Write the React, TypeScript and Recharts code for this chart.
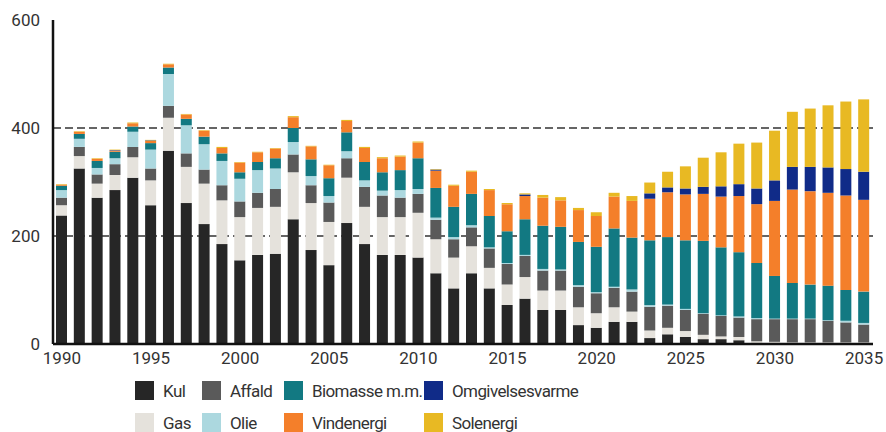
import { BarChart, Bar, XAxis, YAxis, CartesianGrid } from 'recharts';

const years = [
  1990, 1991, 1992, 1993, 1994, 1995, 1996, 1997, 1998, 1999,
  2000, 2001, 2002, 2003, 2004, 2005, 2006, 2007, 2008, 2009,
  2010, 2011, 2012, 2013, 2014, 2015, 2016, 2017, 2018, 2019,
  2020, 2021, 2022, 2023, 2024, 2025, 2026, 2027, 2028, 2029,
  2030, 2031, 2032, 2033, 2034, 2035,
];

const kul = [
  238, 325, 271, 285, 308, 257, 358, 261, 222, 185,
  155, 165, 167, 231, 174, 146, 224, 185, 165, 165,
  160, 131, 103, 131, 103, 72, 84, 63, 63, 35,
  30, 41, 41, 11, 18, 13, 9, 9, 7, 2,
  2, 2, 2, 2, 2, 2,
];
const gas = [
  19, 23, 26, 28, 38, 46, 61, 67, 75, 81,
  80, 87, 87, 87, 87, 80, 84, 69, 70, 70,
  83, 63, 57, 50, 38, 38, 40, 36, 36, 33,
  27, 27, 19, 14, 12, 11, 8, 5, 6, 3,
  2, 1, 1, 1, 1, 1,
];
const affald = [
  14, 17, 17, 20, 19, 22, 22, 25, 26, 28,
  29, 28, 33, 33, 33, 36, 36, 37, 40, 36,
  35, 36, 34, 35, 36, 38, 39, 37, 37, 38,
  37, 36, 37, 44, 41, 39, 39, 38, 36, 41,
  42, 43, 43, 40, 37, 33,
];
const olie = [
  14, 15, 12, 11, 28, 35, 59, 52, 47, 45,
  42, 42, 38, 23, 17, 12, 13, 12, 9, 14,
  9, 4, 4, 4, 2, 2, 2, 3, 2, 3,
  2, 2, 4, 3, 2, 2, 1, 1, 2, 2,
  1, 1, 1, 1, 3, 3,
];
const biomasse = [
  8, 9, 13, 12, 10, 12, 12, 12, 14, 14,
  12, 15, 19, 26, 31, 33, 35, 34, 34, 37,
  57, 55, 56, 58, 58, 59, 66, 80, 79, 80,
  84, 108, 96, 120, 125, 127, 134, 126, 119, 102,
  79, 66, 63, 64, 57, 58,
];
const vind = [
  2, 4, 4, 2, 6, 4, 6, 8, 11, 10,
  18, 18, 18, 20, 24, 24, 21, 26, 26, 25,
  29, 32, 39, 41, 48, 50, 43, 52, 49, 59,
  57, 59, 68, 77, 83, 85, 87, 94, 104, 109,
  139, 173, 173, 172, 175, 170,
];
const omgivelse = [
  0, 0, 0, 1, 0, 1, 0, 0, 0, 0,
  0, 0, 0, 0, 0, 0, 0, 0, 0, 0,
  0, 2, 0, 0, 0, 0, 3, 0, 0, 0,
  0, 0, 0, 10, 9, 11, 13, 19, 22, 29,
  38, 42, 45, 47, 49, 52,
];
const sol = [
  1, 1, 1, 1, 1, 1, 1, 1, 1, 2,
  1, 1, 1, 2, 1, 1, 2, 2, 2, 2,
  2, 1, 2, 2, 2, 2, 2, 5, 6, 4,
  7, 7, 9, 20, 29, 41, 54, 63, 75, 85,
  92, 102, 108, 115, 125, 134,
];

const yTicks = [0, 200, 400, 600];
const gridValues = [200, 400];
const xTicks = [1990, 1995, 2000, 2005, 2010, 2015, 2020, 2025, 2030, 2035];

const series = [
  { key: 'kul', name: 'Kul', color: '#262626' },
  { key: 'gas', name: 'Gas', color: '#e5e2dc' },
  { key: 'affald', name: 'Affald', color: '#5a5a5a' },
  { key: 'olie', name: 'Olie', color: '#acd8df' },
  { key: 'biomasse', name: 'Biomasse m.m.', color: '#127982' },
  { key: 'vind', name: 'Vindenergi', color: '#f47f2a' },
  { key: 'omgivelse', name: 'Omgivelsesvarme', color: '#102b88' },
  { key: 'sol', name: 'Solenergi', color: '#e8b923' },
];

// legend laid out in two rows, four columns
const legendRows = [
  ['kul', 'affald', 'biomasse', 'omgivelse'],
  ['gas', 'olie', 'vind', 'sol'],
];
const legendCols = [135, 202, 284, 424];

const data = years.map((year, i) => ({
  year,
  kul: kul[i],
  gas: gas[i],
  affald: affald[i],
  olie: olie[i],
  biomasse: biomasse[i],
  vind: vind[i],
  omgivelse: omgivelse[i],
  sol: sol[i],
}));

const font = 'Roboto, "Noto Sans", sans-serif';

// only 200 and 400 get a dashed line, drawn behind the bars
const gridRows = ({ yAxis, offset }: any) => {
  if (yAxis && typeof yAxis.scale === 'function') {
    return gridValues.map((v) => yAxis.scale(v));
  }
  return gridValues.map((v) => offset.top + offset.height * (1 - v / 600));
};

const App = () => {
  return (
    <div style={{ position: 'absolute', left: 0, top: 0, width: 886, height: 432, background: '#fff', fontFamily: font }}>
      <BarChart width={886} height={372} data={data} margin={{ top: 20, right: 13, left: 0, bottom: 0 }} barSize={11}>
        <CartesianGrid
          vertical={false}
          stroke="#333"
          strokeWidth={1.3}
          strokeDasharray="8 4"
          horizontalCoordinatesGenerator={gridRows}
        />
        <XAxis
          dataKey="year"
          ticks={xTicks}
          interval={0}
          tickLine={false}
          axisLine={{ stroke: '#111', strokeWidth: 2.5 }}
          tick={{ fontSize: 17, fill: '#333', fontFamily: font }}
          height={28}
        />
        <YAxis
          domain={[0, 600]}
          ticks={yTicks}
          tickLine={false}
          axisLine={{ stroke: '#111', strokeWidth: 2.5 }}
          tick={{ fontSize: 17, fill: '#333', fontFamily: font }}
          tickMargin={7}
          width={53}
        />
        {series.map((s) => (
          <Bar key={s.key} dataKey={s.key} name={s.name} stackId="a" fill={s.color} isAnimationActive={false} />
        ))}
      </BarChart>
      {legendRows.map((row, r) =>
        row.map((key, c) => {
          const s = series.find((x) => x.key === key)!;
          return (
            <div
              key={key}
              style={{ position: 'absolute', left: legendCols[c], top: 381 + r * 32, height: 19, display: 'flex', alignItems: 'center' }}
            >
              <div style={{ width: 19, height: 19, background: s.color }} />
              <span style={{ marginLeft: 9, fontSize: 17, color: '#333', letterSpacing: -0.6, whiteSpace: 'nowrap' }}>{s.name}</span>
            </div>
          );
        })
      )}
    </div>
  );
};

export default App;
